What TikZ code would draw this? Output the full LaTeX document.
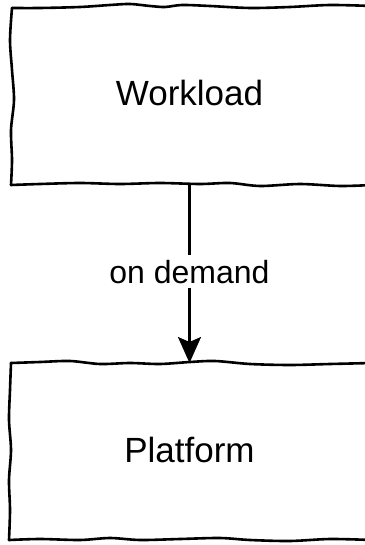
\documentclass[tikz,border=0pt]{standalone}
\usepackage{fontspec}
\setmainfont{Liberation Sans}
\usetikzlibrary{arrows.meta}
\begin{document}
\begin{tikzpicture}[x=1pt,y=-1pt,
  sketch/.style={line width=2.6pt,line cap=round,line join=round},
  boxarea/.style={inner sep=0pt,outer sep=0pt,minimum width=357pt,minimum height=177pt,
    text height=25pt,text depth=4pt,font=\fontsize{35}{40}\selectfont},
  flow/.style={line width=2.3pt,-{Stealth[length=26pt,width=23pt,inset=5pt]}},
  flowlabel/.style={fill=white,inner xsep=2pt,inner ysep=5pt,font=\fontsize{32}{38}\selectfont}]
\useasboundingbox[fill=white] (0,0) rectangle (364,545);

% box areas with their titles
\node[boxarea] (workload) at (189.5,95.5) {Workload};
\node[boxarea] (platform) at (189.5,451.5) {Platform};

% hand-drawn outline of the upper box
\draw[sketch] plot[smooth,tension=0.5] coordinates {(12,8) (40,8) (80,7) (110,5) (130,4) (150,6) (165,7) (182,5) (210,6) (250,8) (290,7) (330,5) (372,6)};
\draw[sketch] plot[smooth,tension=0.5] coordinates {(11,185) (40,184) (80,183) (120,184) (160,183) (200,184) (230,183) (260,186) (300,184) (340,186) (372,185)};
\draw[sketch] plot[smooth,tension=0.5] coordinates {(12,8) (10,40) (12,70) (14,100) (11,130) (12,160) (11,185)};

% hand-drawn outline of the lower box
\draw[sketch] plot[smooth,tension=0.5] coordinates {(11,363) (40,362) (70,361) (100,364) (130,363) (160,364) (190,362) (215,361) (250,364) (290,365) (330,364) (372,363)};
\draw[sketch] plot[smooth,tension=0.5] coordinates {(9,540) (40,539) (80,540) (110,538) (140,540) (180,539) (220,538) (250,540) (290,541) (330,539) (372,540)};
\draw[sketch] plot[smooth,tension=0.5] coordinates {(11,363) (10,390) (9,420) (11,450) (9,480) (10,510) (9,540)};

% connector and its label, the label masking the line behind it
\draw[flow] (workload.south) -- (platform.north);
\path (workload.south) -- (platform.north)
  node[flowlabel,pos=0.49] (demand) {on demand};
\end{tikzpicture}
\end{document}
